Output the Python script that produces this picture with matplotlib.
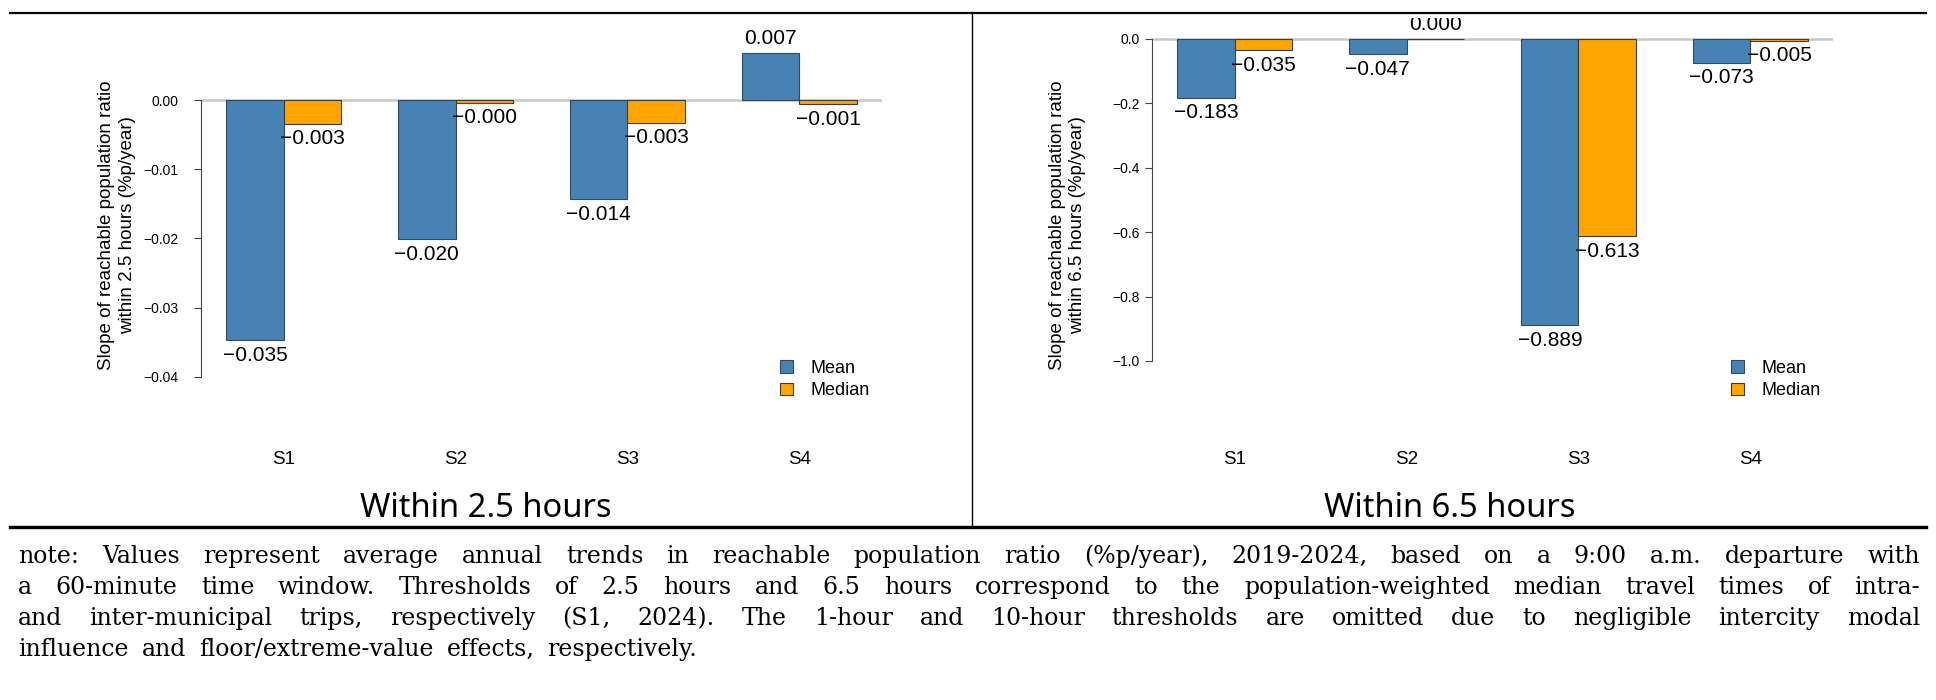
import numpy as np
import matplotlib.pyplot as plt
from matplotlib.lines import Line2D
from matplotlib.transforms import blended_transform_factory

# values
scenarios = ["S1", "S2", "S3", "S4"]
mean_25 = [-0.0347, -0.0201, -0.0143, 0.0068]
median_25 = [-0.0034, -0.0004, -0.0033, -0.0006]
mean_65 = [-0.183, -0.047, -0.889, -0.073]
median_65 = [-0.035, 0.0004, -0.613, -0.005]
yticks_25 = [0.00, -0.01, -0.02, -0.03, -0.04]
yticks_65 = [0.0, -0.2, -0.4, -0.6, -0.8, -1.0]
titles = ["Within 2.5 hours", "Within 6.5 hours"]
ylab1 = "Slope of reachable population ratio"
ylab2 = ["within 2.5 hours (%p/year)", "within 6.5 hours (%p/year)"]
note_lines = [
    "note: Values represent average annual trends in reachable population ratio (%p/year), 2019-2024, based on a 9:00 a.m. departure with",
    "a 60-minute time window. Thresholds of 2.5 hours and 6.5 hours correspond to the population-weighted median travel times of intra-",
    "and inter-municipal trips, respectively (S1, 2024). The 1-hour and 10-hour thresholds are omitted due to negligible intercity modal",
    "influence and floor/extreme-value effects, respectively.",
]

MEAN_C = "#4682B4"
MED_C = "#FFA500"
W, H = 1936, 700

plt.rcParams['font.family'] = ['Liberation Sans', 'DejaVu Sans']

fig = plt.figure(figsize=(W / 100, H / 100), dpi=100)
fig.patch.set_facecolor("white")


def px(x):
    return x / W


def py(y):
    return 1 - y / H


def minus(s):
    return s.replace("-", "\u2212")


def panel(left, zero_px, scale, means, medians, yticks, fmt, tick_pad, lab_x, title_x, k):
    top, bottom = 18, 440
    ax = fig.add_axes([px(left), py(bottom), 681 / W, (bottom - top) / H])
    ax.set_ylim(-(bottom - zero_px) / scale, (zero_px - top) / scale)
    g = np.arange(len(scenarios)) * 3
    ax.set_xlim(0.56, 12.44)
    ax.axhline(0, color="#c8c8c8", lw=1.8, zorder=1)
    ax.bar(g + 1.5, means, width=1, color=MEAN_C, edgecolor="#34495e", lw=0.8, zorder=2, label="Mean")
    ax.bar(g + 2.5, medians, width=1, color=MED_C, edgecolor="#3a3a3a", lw=0.8, zorder=2, label="Median")

    for xs, vals in ((g + 1.5, means), (g + 2.5, medians)):
        for x, v in zip(xs, vals):
            if v < 0:
                t = ax.annotate(minus("%.3f" % v), (x, v), xytext=(0, -4), textcoords="offset points",
                                ha="center", va="top", fontsize=15, clip_on=True)
            else:
                t = ax.annotate("%.3f" % v, (x, v), xytext=(0, 6.5), textcoords="offset points",
                                ha="center", va="baseline", fontsize=15, clip_on=True)

    for s in ("top", "right", "bottom"):
        ax.spines[s].set_visible(False)
    ax.spines["left"].set_bounds(min(yticks), 0)
    ax.spines["left"].set_color("#444444")
    ax.set_yticks(yticks)
    ax.set_yticklabels([minus(fmt % v) if v != 0 else fmt % 0 for v in yticks])
    ax.tick_params(axis="y", direction="out", length=5, width=0.8, color="#444444",
                   labelsize=10, pad=tick_pad)
    ax.set_xticks([])

    tr = blended_transform_factory(ax.transData, fig.transFigure)
    for x, s in zip(g + 2, scenarios):
        ax.text(x, py(464), s, transform=tr, ha="center", va="baseline", fontsize=13.5)

    ax.legend(loc="upper left", bbox_to_anchor=(px(left + 579), py(360)), bbox_transform=fig.transFigure,
              frameon=False, fontsize=13, handlelength=0.7, handleheight=0.7, handletextpad=1.0,
              labelspacing=0.3, borderpad=0, borderaxespad=0)

    fig.text(px(lab_x), py(225), ylab1, rotation=90, ha="center", va="center", fontsize=13.5)
    fig.text(px(lab_x + 21), py(225), ylab2[k], rotation=90, ha="center", va="center", fontsize=13.5)
    fig.text(px(title_x), py(517), titles[k], ha="center", va="baseline", fontsize=23.5,
             family=["Noto Sans", "DejaVu Sans"])
    return ax


panel(201, 100, 6925, mean_25, median_25, yticks_25, "%.2f", 11, 107, 486, 0)
panel(1152, 39, 322, mean_65, median_65, yticks_65, "%.1f", 4, 1057, 1450, 1)

# frame lines
fig.add_artist(Line2D([px(10), px(1926)], [py(13), py(13)], color="black", lw=1.6, transform=fig.transFigure, zorder=5))
fig.add_artist(Line2D([px(10), px(1926)], [py(527), py(527)], color="black", lw=2.4, transform=fig.transFigure, zorder=5))
fig.add_artist(Line2D([px(972), px(972)], [py(13), py(527)], color="black", lw=1.0, transform=fig.transFigure, zorder=5))

# justified note text
fig.canvas.draw()
renderer = fig.canvas.get_renderer()
x_left, x_right = 18, 1920
for i, line in enumerate(note_lines):
    base = 563 + 31 * i
    words = line.split(" ")
    texts = [fig.text(0, py(base), w, fontsize=17, family=["DejaVu Serif"], va="baseline")
             for w in words]
    widths = [t.get_window_extent(renderer).width for t in texts]
    if i < len(note_lines) - 1:
        gap = (x_right - x_left - sum(widths)) / (len(words) - 1)
    else:
        gap = 13
    x = x_left
    for t, w in zip(texts, widths):
        t.set_x(px(x))
        x += w + gap

fig.savefig("out.png", dpi=100)
